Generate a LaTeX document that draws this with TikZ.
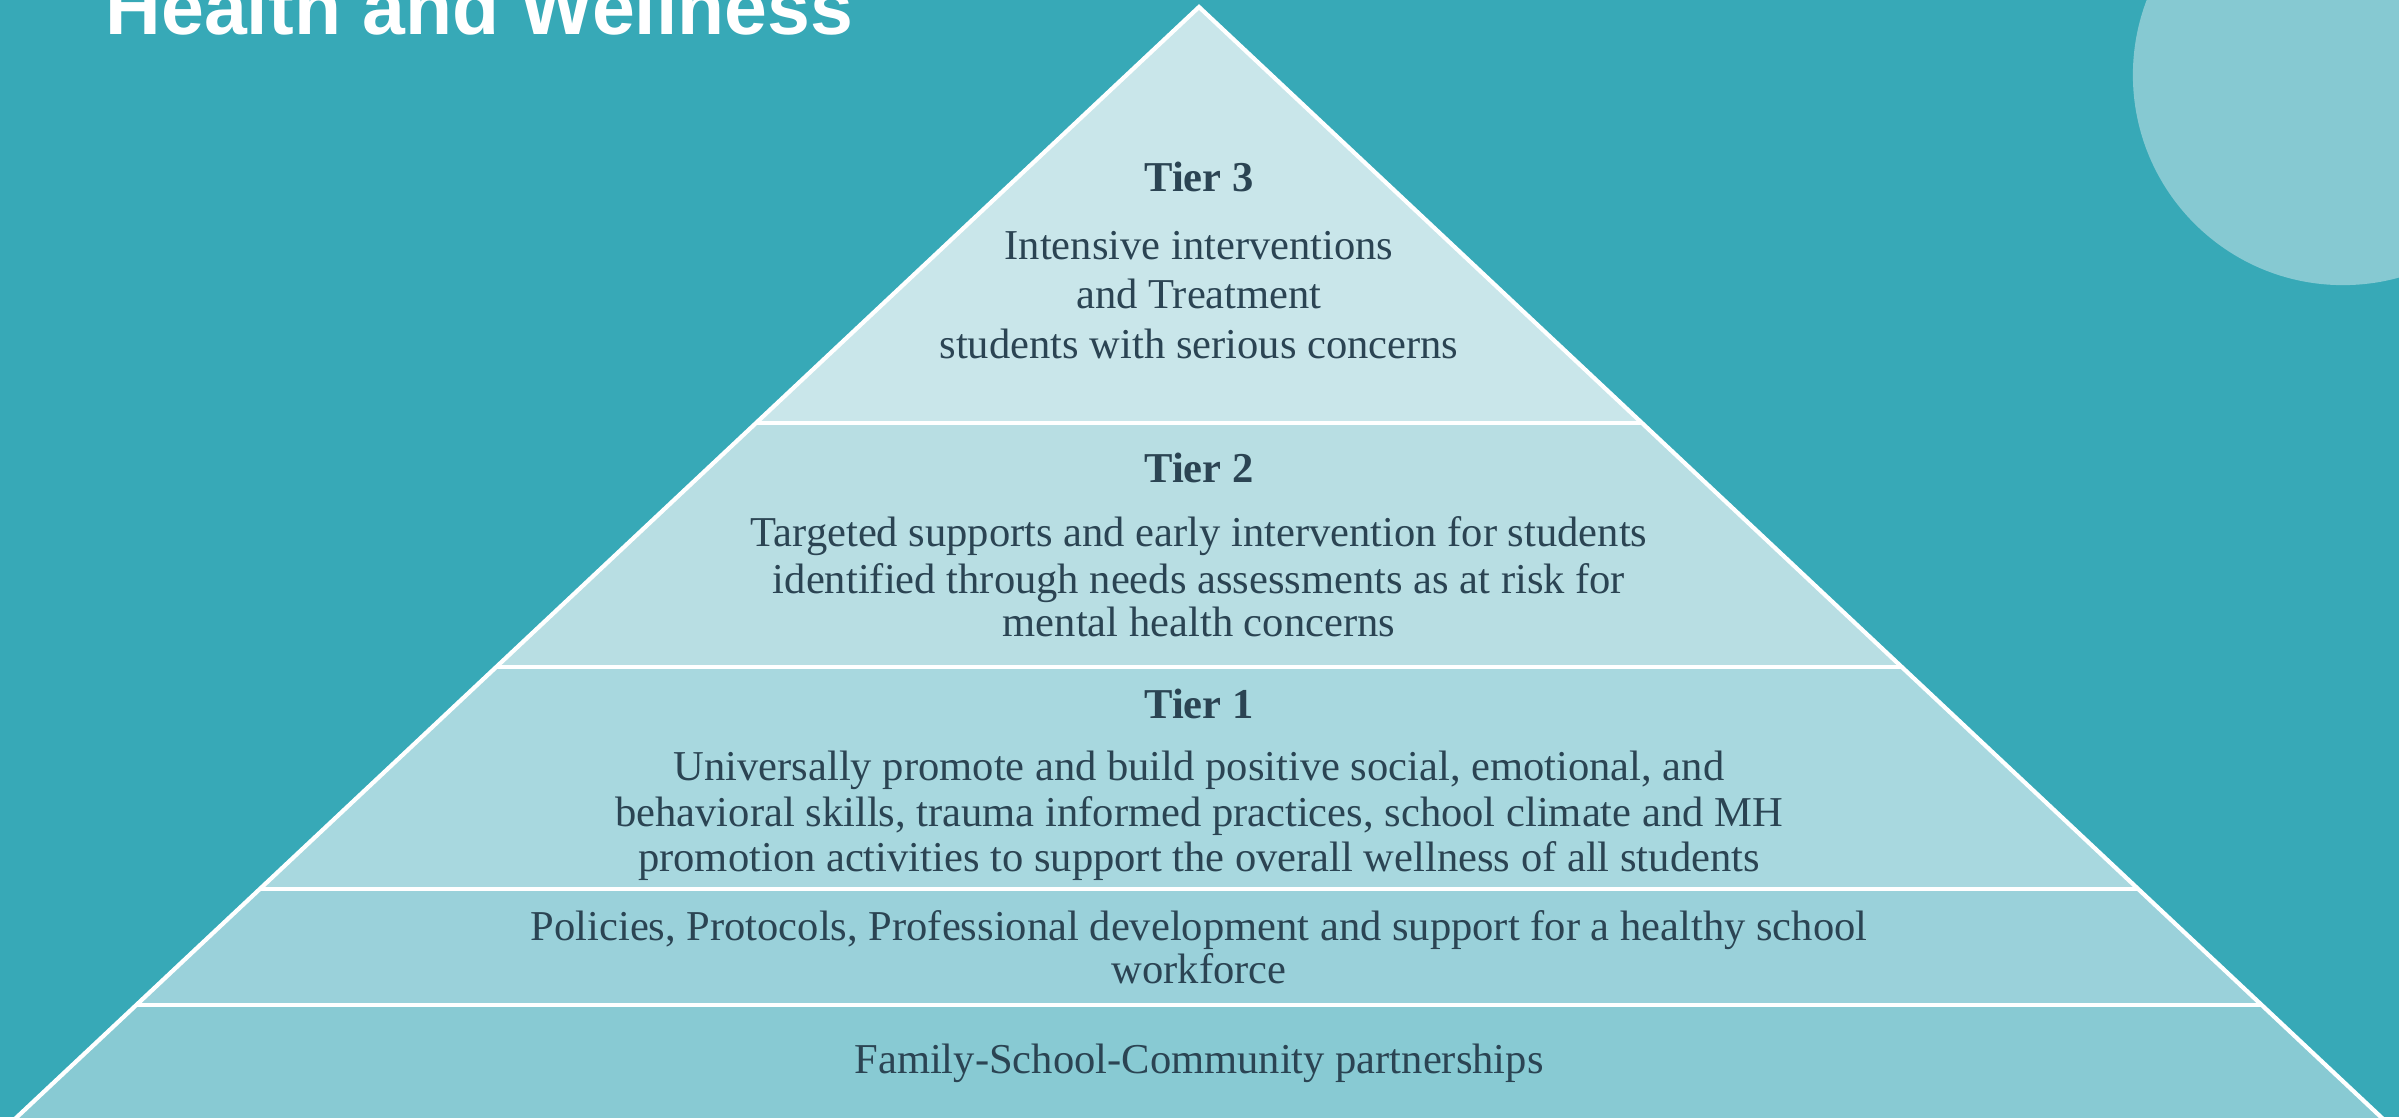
\documentclass[tikz,border=0pt]{standalone}
\usepackage{fontspec}
\setmainfont{Liberation Serif}
\newfontfamily\titlefont{Liberation Sans}
\definecolor{bgteal}{HTML}{37A9B7}
\definecolor{circfill}{HTML}{86C9D2}
\definecolor{bandA}{HTML}{C9E6EA}
\definecolor{bandB}{HTML}{B8DEE3}
\definecolor{bandC}{HTML}{A8D8DF}
\definecolor{bandD}{HTML}{9AD1DA}
\definecolor{bandE}{HTML}{88CAD3}
\definecolor{txt}{HTML}{2B4453}
\tikzset{
  bodytext/.style={anchor=base, inner sep=0pt, text=txt, font=\fontsize{12.1pt}{14pt}\selectfont},
  tiertext/.style={anchor=base, inner sep=0pt, text=txt, font=\fontsize{12.1pt}{14pt}\selectfont\bfseries},
  sep/.style={draw=white, line width=1.2pt},
}
\begin{document}
\begin{tikzpicture}[x=0.01cm,y=-0.01cm]
\useasboundingbox (0,0) rectangle (2399,1117);
\begin{scope}
\clip (0,0) rectangle (2399,1117);
\fill[bgteal] (0,0) rectangle (2399,1117);
\fill[circfill] (2343,75) circle[radius=2.1cm];
% bands
\fill[bandA] (1199,7) -- (1642,423) -- (756,423) -- cycle;
\fill[bandB] (756,423) -- (1642,423) -- (1901.8,667) -- (496.2,667) -- cycle;
\fill[bandC] (496.2,667) -- (1901.8,667) -- (2138.2,889) -- (259.8,889) -- cycle;
\fill[bandD] (259.8,889) -- (2138.2,889) -- (2261.7,1005) -- (136.3,1005) -- cycle;
\fill[bandE] (136.3,1005) -- (2261.7,1005) -- (2394.8,1130) -- (3.2,1130) -- cycle;
% outlines
\coordinate (apex) at (1199,7);
\coordinate (bl) at (3.2,1130);
\coordinate (br) at (2394.8,1130);
\draw[sep, line join=miter] (bl) -- (apex) -- (br);
\draw[sep] (756,423) -- (1642,423);
\draw[sep] (496.2,667) -- (1901.8,667);
\draw[sep] (259.8,889) -- (2138.2,889);
\draw[sep] (136.3,1005) -- (2261.7,1005);
\end{scope}
% title
\node[anchor=base west, inner sep=0pt, text=white, font=\titlefont\fontsize{21.9pt}{24pt}\selectfont\bfseries] (title) at (105,34) {Health and Wellness};
% Tier 3
\node[tiertext] (t3) at (1199,191) {Tier 3};
\node[bodytext] (t3a) at (1199,259) {Intensive interventions};
\node[bodytext] (t3b) at (1199,308) {and Treatment};
\node[bodytext] (t3c) at (1199,358) {students with serious concerns};
% Tier 2
\node[tiertext] (t2) at (1199,482) {Tier 2};
\node[bodytext] (t2a) at (1199,546) {Targeted supports and early intervention for students};
\node[bodytext] (t2b) at (1199,593) {identified through needs assessments as at risk for};
\node[bodytext] (t2c) at (1199,636) {mental health concerns};
% Tier 1
\node[tiertext] (t1) at (1199,718) {Tier 1};
\node[bodytext] (t1a) at (1199,780) {Universally promote and build positive social, emotional, and};
\node[bodytext] (t1b) at (1199,826) {behavioral skills, trauma informed practices, school climate and MH};
\node[bodytext] (t1c) at (1199,871) {promotion activities to support the overall wellness of all students};
% Policies
\node[bodytext] (p1) at (1199,940) {Policies, Protocols, Professional development and support for a healthy school};
\node[bodytext] (p2) at (1199,983) {workforce};
% Family
\node[bodytext] (f1) at (1199,1073) {Family-School-Community partnerships};
\end{tikzpicture}
\end{document}
